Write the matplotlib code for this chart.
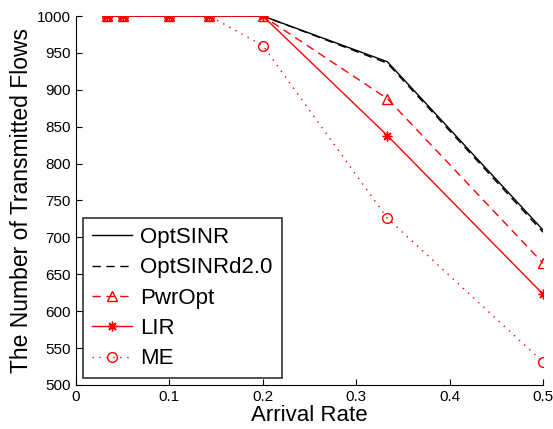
import matplotlib
matplotlib.use('Agg')
import matplotlib.pyplot as plt

plt.rcParams['font.family'] = ['Liberation Sans', 'DejaVu Sans']

# arrival rates
rates = [1/30, 0.05, 0.1, 1/7, 0.2, 1/3, 0.5]

opt_sinr = [1000, 1000, 1000, 1000, 1000, 938, 710]
opt_sinr_d2 = [1000, 1000, 1000, 1000, 1000, 936, 707]
pwr_opt = [1000, 1000, 1000, 1000, 1000, 888, 665]
lir = [1000, 1000, 1000, 1000, 1000, 838, 623]
me = [1000, 1000, 1000, 1000, 960, 726, 531]

fig = plt.figure(figsize=(5.53, 4.29), dpi=100)
ax = fig.add_axes([0.1374, 0.1026, 0.8446, 0.8601])

ax.plot(rates, opt_sinr, color='black', lw=1, ls='-', label='OptSINR')
ax.plot(rates, opt_sinr_d2, color='black', lw=1, ls=(0, (6, 4)), label='OptSINRd2.0')
ax.plot(rates, pwr_opt, color='red', lw=1, ls=(0, (6, 4)), marker='^', ms=7,
        mfc='none', mec='red', label='PwrOpt')
ax.plot(rates, lir, color='red', lw=1, ls='-', marker=(8, 2, 0), ms=7,
        mfc='none', mec='red', label='LIR')
ax.plot(rates, me, color='red', lw=1, ls=(0, (1, 4)), marker='o', ms=7,
        mfc='none', mec='red', label='ME')

ax.set_xlim(0, 0.5)
ax.set_ylim(500, 1000)
ax.set_xticks([0, 0.1, 0.2, 0.3, 0.4, 0.5])
ax.set_xticklabels(['0', '0.1', '0.2', '0.3', '0.4', '0.5'])
ax.set_yticks(range(500, 1001, 50))
ax.tick_params(direction='in', labelsize=11, length=4)
ax.spines['top'].set_visible(False)
ax.spines['right'].set_visible(False)

ax.set_xlabel('Arrival Rate', fontsize=16, labelpad=1)
ax.set_ylabel('The Number of Transmitted Flows', fontsize=16.5, labelpad=3)

leg = ax.legend(loc='lower left', fontsize=16, frameon=True, fancybox=False,
                edgecolor='black', borderaxespad=0.3, handlelength=1.8,
                handletextpad=0.4, labelspacing=0.42, borderpad=0.4)
leg.get_frame().set_linewidth(1.2)

fig.savefig('out.png', dpi=100)
